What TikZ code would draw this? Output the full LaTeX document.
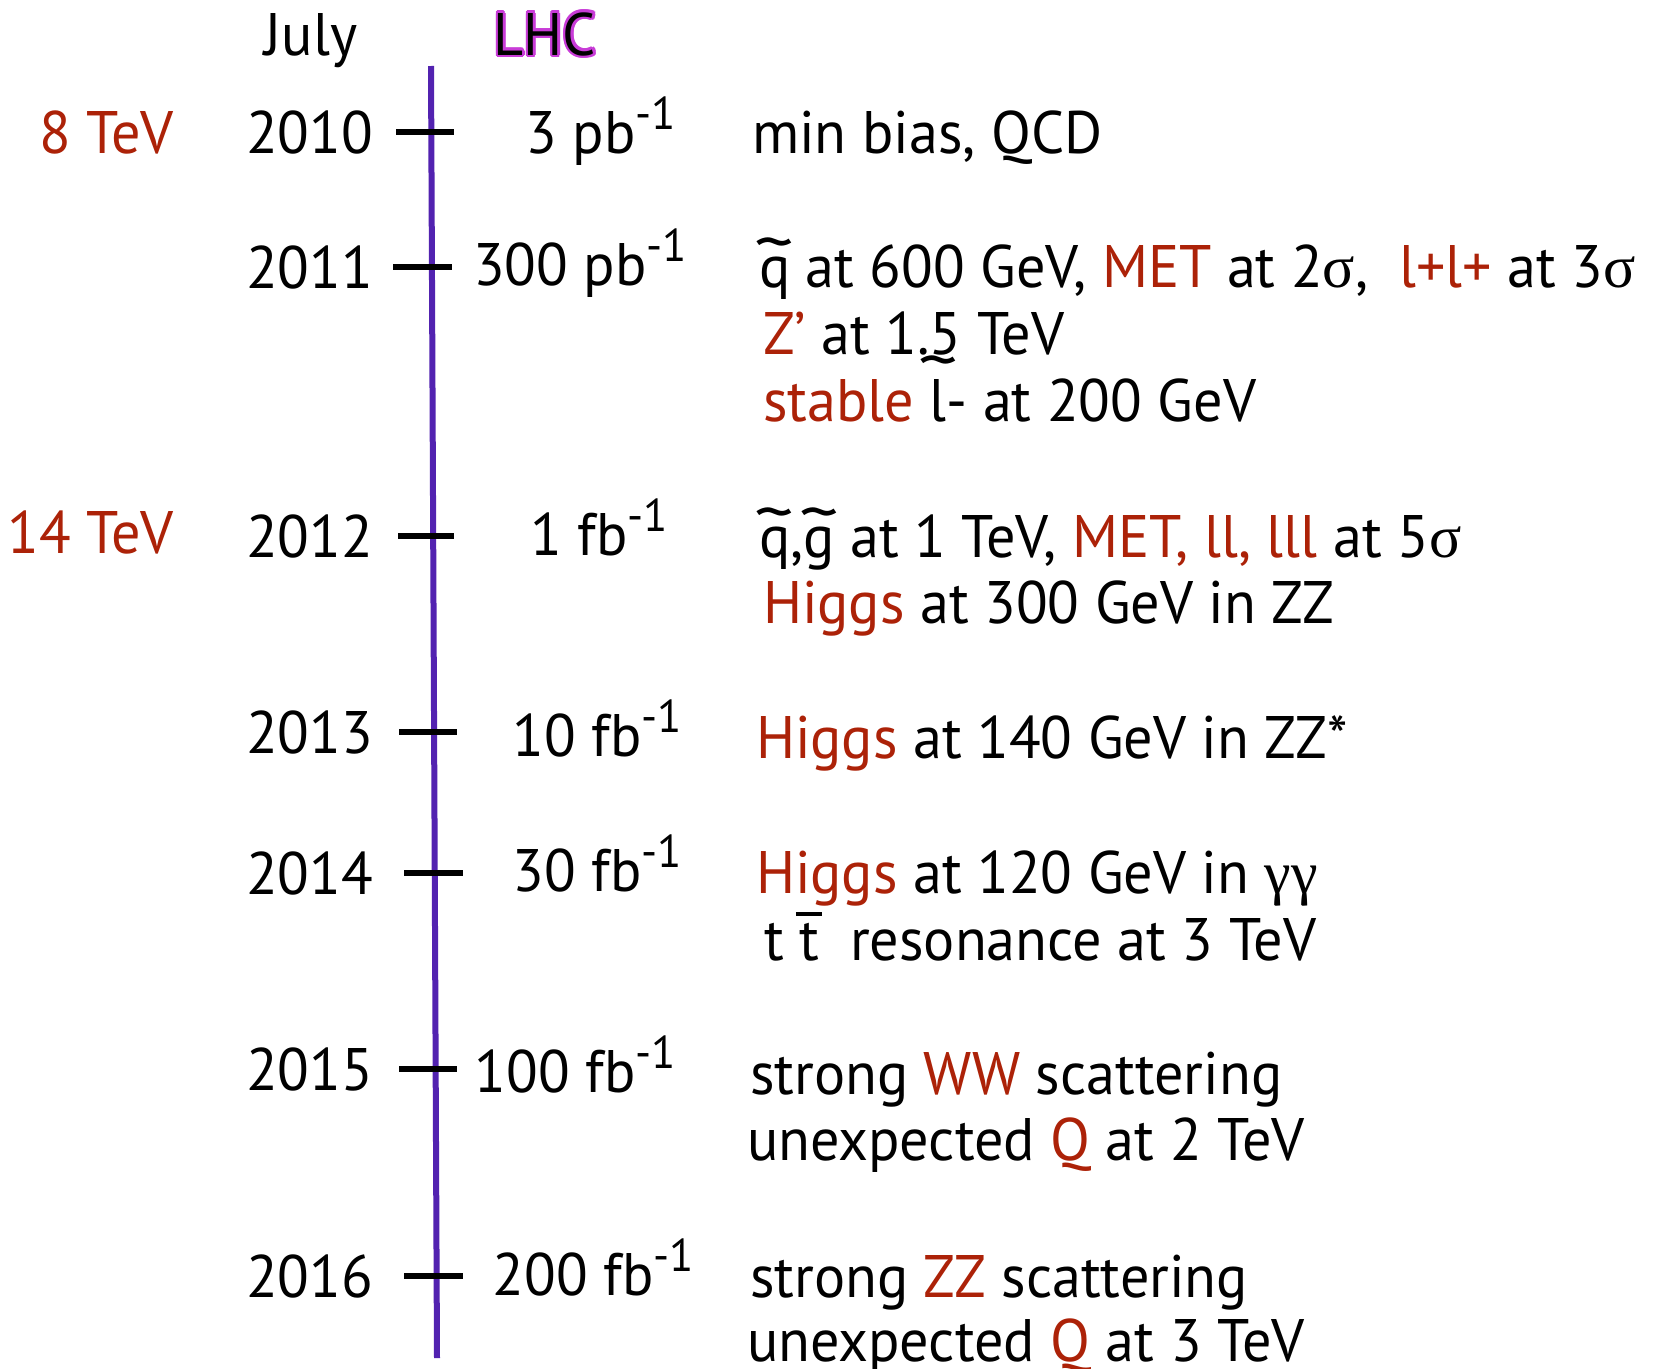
\documentclass[tikz,border=0pt]{standalone}
\usepackage{fontspec}
\usetikzlibrary{calc}
\setmainfont[FakeStretch=0.97]{PT Sans}
\newfontfamily\grk{Liberation Serif}
\definecolor{hired}{RGB}{172,34,8}
\definecolor{axis}{RGB}{82,34,176}
\definecolor{lhcpink}{RGB}{200,60,215}
\newcommand{\invsup}{\raisebox{0.40em}{\fontsize{46}{46}\selectfont -1}}
\newcommand{\hl}[1]{\textcolor{hired}{#1}}
\newcommand{\sg}{{\grk σ}}
\newcommand{\gm}{{\grk γ}}
\newcommand{\tld}[1]{\ooalign{#1\cr\hidewidth\raisebox{0.36em}{\scalebox{1.35}[1.1]{\textasciitilde}}\hidewidth\cr}}
\newcommand{\tldhi}[1]{\ooalign{#1\cr\hidewidth\raisebox{0.63em}{\scalebox{1.35}[1.1]{\textasciitilde}}\hidewidth\cr}}
\newcommand{\tbar}{\ooalign{t\cr\hidewidth\raisebox{0.74em}{\rule{0.44em}{0.055em}}\hidewidth\cr}}
\begin{document}
\begin{tikzpicture}[x=1pt,y=-1pt,
  every node/.style={inner sep=0pt,outer sep=0pt,font=\fontsize{60}{72}\selectfont},
  yr/.style={anchor=base east},
  lum/.style={anchor=base east},
  txt/.style={anchor=base west},
  tev/.style={anchor=base east,text=hired},
  tickline/.style={line width=6pt,black},
  axisline/.style={line width=6pt,axis}]
\useasboundingbox (0,0) rectangle (1657,1368);
% header
\node[anchor=base] (july) at (311,55) {July};
\foreach \a in {0,30,...,330}
  \node[anchor=base,text=lhcpink] (lhcg\a) at ($(545,55)+(\a:2.4)$) {LHC};
\node[anchor=base] (lhc) at (545,55) {LHC};
% axis
\coordinate (atop) at (431,66);
\coordinate (abot) at (437,1358);
\draw[axisline] (atop) -- (abot);
% ticks
\coordinate (t0l) at (396,132); \coordinate (t0r) at (454,132);
\coordinate (t1l) at (393,267); \coordinate (t1r) at (452,267);
\coordinate (t2l) at (398,536); \coordinate (t2r) at (454,536);
\coordinate (t3l) at (399,732); \coordinate (t3r) at (457,732);
\coordinate (t4l) at (404,873); \coordinate (t4r) at (463,873);
\coordinate (t5l) at (399,1069); \coordinate (t5r) at (457,1069);
\coordinate (t6l) at (404,1276); \coordinate (t6r) at (463,1276);
\foreach \i in {0,...,6} \draw[tickline] (t\i l) -- (t\i r);
% energies
\node[tev] (e8) at (174,153) {8 TeV};
\node[tev] (e14) at (174,553) {14 TeV};
% years
\node[yr] (y2010) at (373,153) {2010};
\node[yr] (y2011) at (373,288) {2011};
\node[yr] (y2012) at (373,557) {2012};
\node[yr] (y2013) at (373,753) {2013};
\node[yr] (y2014) at (373,894) {2014};
\node[yr] (y2015) at (373,1090) {2015};
\node[yr] (y2016) at (373,1297) {2016};
% luminosities
\node[lum] (l2010) at (676,153) {3 pb\invsup};
\node[lum] (l2011) at (687,285) {300 pb\invsup};
\node[lum] (l2012) at (668,555) {1 fb\invsup};
\node[lum] (l2013) at (682,756) {10 fb\invsup};
\node[lum] (l2014) at (682,891) {30 fb\invsup};
\node[lum] (l2015) at (676,1092) {100 fb\invsup};
\node[lum] (l2016) at (694,1295) {200 fb\invsup};
% physics
\node[txt] (p10) at (752,153) {min bias, QCD};
\node[txt] (p11a) at (759,287) {\tld{q} at 600 GeV, \hl{MET} at 2\sg,\ \ \hl{l+l+} at 3\sg};
\node[txt] (p11b) at (763,354) {\hl{Z’} at 1.5 TeV};
\node[txt] (p11c) at (763,421) {\hl{stable} \tldhi{l}- at 200 GeV};
\node[txt] (p12a) at (759,557) {\tld{q},\tld{g} at 1 TeV, \hl{MET, ll, lll} at 5\sg};
\node[txt] (p12b) at (763,623) {\hl{Higgs} at 300 GeV in ZZ};
\node[txt] (p13) at (756,758) {\hl{Higgs} at 140 GeV in ZZ*};
\node[txt] (p14a) at (756,893) {\hl{Higgs} at 120 GeV in \gm\gm};
\node[txt] (p14b) at (764,960) {t \tbar\ \ resonance at 3 TeV};
\node[txt] (p15a) at (750,1094) {strong \hl{WW} scattering};
\node[txt] (p15b) at (747,1160) {unexpected \hl{Q} at 2 TeV};
\node[txt] (p16a) at (750,1297) {strong \hl{ZZ} scattering};
\node[txt] (p16b) at (747,1361) {unexpected \hl{Q} at 3 TeV};
\end{tikzpicture}
\end{document}
